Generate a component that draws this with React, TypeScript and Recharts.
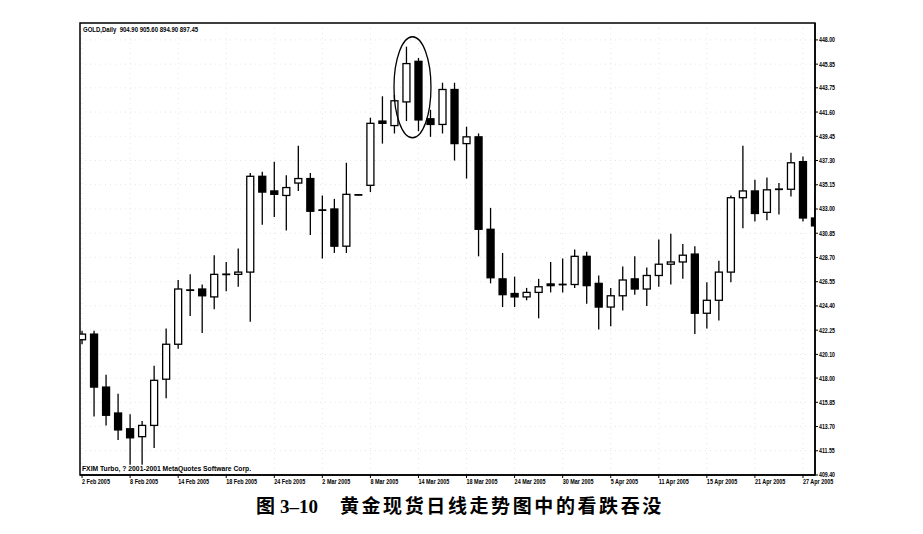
import React from 'react';
import {
  ComposedChart, Bar, XAxis, YAxis, CartesianGrid,
  ReferenceArea, ReferenceDot,
} from 'recharts';

// trading days shown on the chart (last one is cut by the right edge)
const dates = [
  '2 Feb 2005', '3 Feb 2005', '4 Feb 2005', '7 Feb 2005', '8 Feb 2005', '9 Feb 2005', '10 Feb 2005', '11 Feb 2005',
  '14 Feb 2005', '15 Feb 2005', '16 Feb 2005', '17 Feb 2005', '18 Feb 2005', '21 Feb 2005', '22 Feb 2005', '23 Feb 2005',
  '24 Feb 2005', '25 Feb 2005', '28 Feb 2005', '1 Mar 2005', '2 Mar 2005', '3 Mar 2005', '4 Mar 2005', '7 Mar 2005',
  '8 Mar 2005', '9 Mar 2005', '10 Mar 2005', '11 Mar 2005', '14 Mar 2005', '15 Mar 2005', '16 Mar 2005', '17 Mar 2005',
  '18 Mar 2005', '21 Mar 2005', '22 Mar 2005', '23 Mar 2005', '24 Mar 2005', '25 Mar 2005', '28 Mar 2005', '29 Mar 2005',
  '30 Mar 2005', '31 Mar 2005', '1 Apr 2005', '4 Apr 2005', '5 Apr 2005', '6 Apr 2005', '7 Apr 2005', '8 Apr 2005',
  '11 Apr 2005', '12 Apr 2005', '13 Apr 2005', '14 Apr 2005', '15 Apr 2005', '18 Apr 2005', '19 Apr 2005', '20 Apr 2005',
  '21 Apr 2005', '22 Apr 2005', '25 Apr 2005', '26 Apr 2005', '27 Apr 2005', '28 Apr 2005',
];

const tickLabels = [
  '2 Feb 2005', '8 Feb 2005', '14 Feb 2005', '18 Feb 2005', '24 Feb 2005', '2 Mar 2005', '8 Mar 2005', '14 Mar 2005',
  '18 Mar 2005', '24 Mar 2005', '30 Mar 2005', '5 Apr 2005', '11 Apr 2005', '15 Apr 2005', '21 Apr 2005', '27 Apr 2005',
];

const open = [
  421.4, 421.9, 417.2, 414.9, 413.5, 412.8, 413.8, 417.9, 421.0, 425.8, 425.9, 425.2, 427.2, 427.2, 427.4, 435.9,
  434.6, 434.2, 435.3, 435.7, 432.9, 433.0, 429.7, 434.25, 435.1, 440.8, 440.4, 442.5, 446.1, 441.0, 440.5, 443.6,
  438.8, 439.4, 431.2, 426.8, 425.5, 425.2, 425.6, 426.35, 426.3, 426.3, 428.8, 426.4, 424.3, 425.3, 426.8, 425.9,
  427.1, 428.1, 428.3, 429.0, 423.75, 424.9, 427.4, 434.0, 434.6, 432.7, 434.75, 434.75, 437.2, 432.2,
];
const high = [
  422.2, 422.2, 418.3, 416.6, 414.8, 414.2, 419.1, 422.4, 426.7, 427.2, 426.3, 428.9, 428.3, 429.5, 436.2, 436.3,
  437.2, 436.0, 438.6, 436.2, 434.2, 433.9, 437.1, 434.3, 441.1, 443.0, 443.1, 447.4, 446.4, 441.8, 444.2, 444.2,
  440.3, 439.7, 433.1, 429.1, 427.0, 426.0, 426.8, 428.3, 428.6, 429.4, 429.2, 427.1, 426.0, 427.9, 428.8, 427.8,
  430.3, 430.8, 429.9, 429.7, 426.5, 428.4, 434.2, 438.6, 435.6, 435.8, 435.3, 438.0, 437.65, 434.2,
];
const low = [
  421.0, 414.6, 413.8, 412.5, 410.3, 410.3, 411.8, 416.2, 420.6, 423.5, 422.0, 424.1, 425.7, 426.1, 423.0, 431.6,
  432.3, 431.1, 434.6, 430.7, 428.6, 429.1, 429.1, 434.2, 434.5, 438.8, 439.7, 440.8, 439.9, 439.4, 439.7, 437.3,
  435.7, 428.8, 426.4, 424.3, 424.3, 424.9, 423.3, 425.6, 425.6, 426.0, 424.6, 422.3, 422.6, 424.0, 425.4, 424.4,
  426.1, 426.3, 426.8, 421.9, 422.4, 423.1, 426.5, 431.3, 431.9, 432.0, 432.5, 434.1, 431.9, 431.0,
];
const close = [
  421.9, 417.2, 414.7, 413.4, 412.7, 413.8, 417.8, 421.0, 425.9, 425.8, 425.3, 427.2, 427.2, 427.4, 435.9, 434.5,
  434.3, 434.9, 435.7, 432.8, 432.9, 429.7, 434.3, 434.25, 440.6, 440.6, 442.6, 445.9, 440.9, 440.5, 443.6, 438.8,
  439.4, 431.2, 426.9, 425.4, 425.2, 425.6, 426.1, 426.2, 426.3, 428.8, 426.2, 424.3, 425.3, 426.7, 425.9, 427.1,
  428.1, 428.3, 428.9, 423.75, 424.9, 427.4, 434.0, 434.6, 432.6, 434.7, 434.75, 437.1, 432.2, 431.5,
];

const yTicks = [
  448.0, 445.85, 443.75, 441.6, 439.45, 437.3, 435.15, 433.0, 430.85, 428.7,
  426.55, 424.4, 422.25, 420.1, 418.0, 415.85, 413.7, 411.55, 409.4,
];

const Y_MIN = 409.4;
const Y_MAX = 449.5;
const X_MIN = -0.17;
const X_MAX = 61;

// bearish engulfing pair (11 Mar / 14 Mar) is circled
const ENGULF_X = 27.5;
const ENGULF_Y = 443.8;

const rows = dates.map((d, i) => ({
  i, date: d, open: open[i], high: high[i], low: low[i], close: close[i],
}));

const xTicks = tickLabels.map(l => dates.indexOf(l));

const axisFont = "'Liberation Sans', Arial, sans-serif";

function Candle(props: any) {
  const { x, y, width, height, payload } = props;
  if (!payload) return null;
  const top = Math.min(y, y + height);
  const bot = Math.max(y, y + height);
  const { open: o, close: c, high: h, low: l } = payload;
  const k = (bot - top) / (h - l);
  const py = (v: number) => top + (h - v) * k;
  const cx = x + width / 2;
  const yO = py(o);
  const yC = py(c);
  const bTop = Math.min(yO, yC);
  const bH = Math.abs(yO - yC);
  const up = c >= o;
  return (
    <g>
      <line x1={cx} x2={cx} y1={top} y2={bot} stroke="#000" strokeWidth={1.3} />
      {bH < 1 ? (
        <line x1={x} x2={x + width} y1={bTop} y2={bTop} stroke="#000" strokeWidth={1.8} />
      ) : (
        <rect
          x={x + 0.5} y={bTop} width={width - 1} height={bH}
          fill={up ? '#fff' : '#000'} stroke="#000" strokeWidth={1.3}
        />
      )}
    </g>
  );
}

// narrow bold labels like the MT4 terminal font
function DateTick(props: any) {
  const { x, y, payload } = props;
  return (
    <text
      transform={`translate(${x},${y + 1}) scale(0.78,1)`}
      dy="0.71em" textAnchor="start"
      fontSize={7} fontWeight="bold" fontFamily={axisFont} fill="#000"
    >
      {dates[payload.value]}
    </text>
  );
}

function PriceTick(props: any) {
  const { x, y, payload } = props;
  return (
    <text
      transform={`translate(${x},${y}) scale(0.75,1)`}
      dy="0.355em" textAnchor="start"
      fontSize={7} fontWeight="bold" fontFamily={axisFont} fill="#000"
    >
      {payload.value.toFixed(2)}
    </text>
  );
}

export default function App() {
  return (
    <div style={{ position: 'absolute', left: 0, top: 0, width: 923, height: 534, background: '#fff' }}>
      <ComposedChart
        width={923}
        height={534}
        data={rows}
        margin={{ top: 23, right: 78, bottom: 39, left: 80 }}
      >
        <CartesianGrid stroke="#e6e6e6" strokeDasharray="1 4" />

        <XAxis
          dataKey="i"
          type="number"
          domain={[X_MIN, X_MAX]}
          allowDataOverflow
          ticks={xTicks}
          interval={0}
          tick={<DateTick />}
          tickSize={3}
          tickMargin={0}
          height={20}
          axisLine={{ stroke: '#000', strokeWidth: 1.5 }}
          tickLine={{ stroke: '#000' }}
        />

        <YAxis
          orientation="right"
          domain={[Y_MIN, Y_MAX]}
          allowDataOverflow
          ticks={yTicks}
          interval={0}
          tick={<PriceTick />}
          tickSize={3}
          tickMargin={1}
          width={30}
          axisLine={{ stroke: '#000', strokeWidth: 1.5 }}
          tickLine={{ stroke: '#000' }}
        />

        <ReferenceArea
          x1={X_MIN} x2={X_MAX} y1={Y_MIN} y2={Y_MAX}
          fill="none" stroke="#000" strokeWidth={1.5} ifOverflow="visible"
        />

        <Bar
          dataKey={(d: any) => [d.low, d.high]}
          barSize={8}
          shape={(p: any) => <Candle {...p} />}
          isAnimationActive={false}
        />

        <ReferenceDot
          x={ENGULF_X}
          y={ENGULF_Y}
          ifOverflow="visible"
          shape={(p: any) => (
            <ellipse cx={p.cx} cy={p.cy} rx={18.5} ry={50.5} fill="none" stroke="#000" strokeWidth={1.3} />
          )}
        />
      </ComposedChart>

      <div style={{
        position: 'absolute', left: 83, top: 26, fontSize: 7.5, lineHeight: 1, fontWeight: 'bold',
        fontFamily: axisFont, whiteSpace: 'nowrap', transform: 'scaleX(0.8)', transformOrigin: 'left top',
      }}>
        GOLD,Daily&nbsp;&nbsp;904.90 905.60 894.90 897.45
      </div>

      <div style={{
        position: 'absolute', left: 82, top: 465, fontSize: 7.5, lineHeight: 1, fontWeight: 'bold',
        fontFamily: axisFont, whiteSpace: 'nowrap', transform: 'scaleX(0.9)', transformOrigin: 'left top',
      }}>
        FXIM Turbo, ? 2001-2001 MetaQuotes Software Corp.
      </div>

      <div style={{
        position: 'absolute', left: 0, width: 920, top: 495, textAlign: 'center', fontSize: 19,
        lineHeight: 1, fontWeight: 'bold', whiteSpace: 'nowrap',
        fontFamily: "'Liberation Serif', 'Noto Sans CJK SC', serif",
      }}>
        <span style={{ fontFamily: "'Noto Sans CJK SC', sans-serif" }}>图</span>
        <span> 3–10</span>
        <span style={{ marginLeft: 22, letterSpacing: 2.6, fontFamily: "'Noto Sans CJK SC', sans-serif" }}>
          黄金现货日线走势图中的看跌吞没
        </span>
      </div>
    </div>
  );
}
